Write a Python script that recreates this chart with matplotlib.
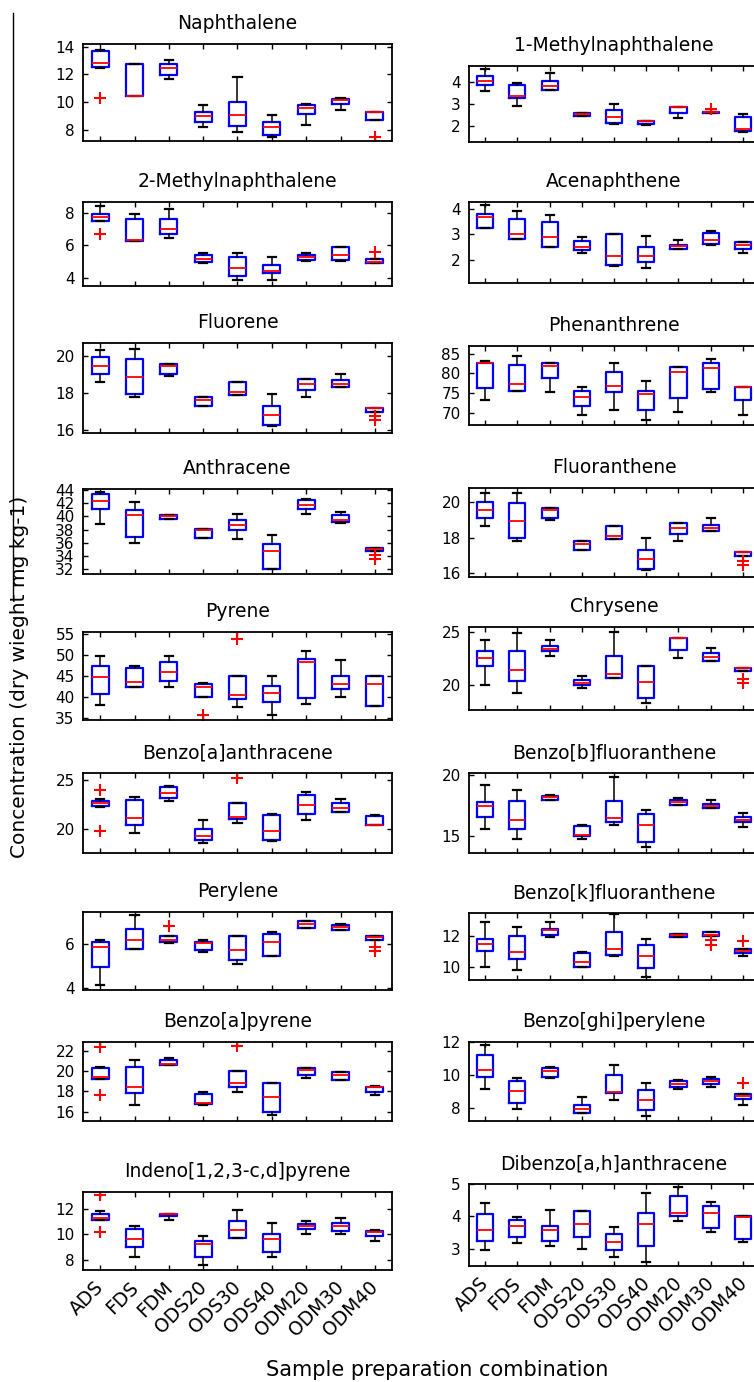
import matplotlib
matplotlib.use("Agg")
import matplotlib.pyplot as plt
from matplotlib.lines import Line2D
import matplotlib.transforms as mtransforms

W, H = 754, 1382

groups = ["ADS", "FDS", "FDM", "ODS20", "ODS30", "ODS40", "ODM20", "ODM30", "ODM40"]

# Each compound: [whisker low, q1, median, q3, whisker high] per group, plus outliers
naphthalene = [[12.49, 10.45, 11.65, 8.22, 7.88, 7.52, 8.34, 9.44, 8.70],
               [12.56, 10.45, 11.96, 8.55, 8.31, 7.64, 9.18, 9.85, 8.70],
               [12.85, 10.45, 12.49, 9.03, 9.08, 8.24, 9.56, 10.16, 9.30],
               [13.69, 12.73, 12.73, 9.32, 10.02, 8.60, 9.78, 10.23, 9.30],
               [13.76, 12.73, 13.06, 9.78, 11.79, 9.08, 9.87, 10.33, 9.30]]
naphthalene_out = [[10.33], [], [], [], [], [], [], [], [7.52]]

methyl1 = [[3.59, 2.90, 3.65, 2.44, 2.09, 2.03, 2.37, 2.59, 1.71],
           [3.88, 3.28, 3.65, 2.44, 2.12, 2.06, 2.58, 2.59, 1.76],
           [4.05, 3.34, 3.80, 2.52, 2.40, 2.23, 2.85, 2.61, 1.86],
           [4.26, 3.88, 4.05, 2.60, 2.70, 2.23, 2.85, 2.63, 2.40],
           [4.58, 3.95, 4.43, 2.60, 2.98, 2.23, 2.85, 2.63, 2.52]]
methyl1_out = [[], [], [], [], [], [], [], [2.76], []]

methyl2 = [[7.49, 6.26, 6.42, 4.88, 3.88, 3.88, 5.05, 5.05, 4.88],
           [7.49, 6.26, 6.71, 4.96, 4.08, 4.29, 5.09, 5.09, 4.88],
           [7.73, 6.30, 6.99, 5.17, 4.59, 4.39, 5.25, 5.42, 4.96],
           [7.92, 7.59, 7.63, 5.42, 5.29, 4.80, 5.42, 5.89, 5.13],
           [8.43, 7.92, 8.25, 5.50, 5.50, 5.27, 5.50, 5.89, 5.13]]
methyl2_out = [[6.69], [], [], [], [], [], [], [], [5.58]]

acenaphthene = [[3.23, 2.81, 2.50, 2.25, 1.75, 1.67, 2.41, 2.59, 2.25],
                [3.24, 2.81, 2.50, 2.38, 1.78, 1.91, 2.43, 2.63, 2.43],
                [3.66, 3.02, 2.90, 2.50, 2.13, 2.13, 2.52, 2.76, 2.59],
                [3.79, 3.59, 3.48, 2.71, 3.02, 2.51, 2.59, 3.03, 2.68],
                [4.14, 3.91, 3.74, 2.90, 3.02, 2.94, 2.77, 3.12, 2.68]]
acenaphthene_out = [[], [], [], [], [], [], [], [], []]

fluorene = [[18.58, 17.78, 18.95, 17.27, 17.87, 16.18, 17.78, 18.35, 16.96],
            [19.04, 17.96, 19.04, 17.27, 17.87, 16.27, 18.15, 18.35, 16.96],
            [19.49, 18.85, 19.47, 17.64, 18.07, 16.82, 18.49, 18.49, 17.18],
            [19.95, 19.85, 19.56, 17.80, 18.62, 17.27, 18.76, 18.71, 17.18],
            [20.36, 20.40, 19.56, 17.80, 18.62, 17.96, 18.76, 19.05, 17.18]]
fluorene_out = [[], [], [], [], [], [], [], [], [16.75, 16.52]]

phenanthrene = [[73.2, 75.6, 75.2, 69.5, 70.7, 68.2, 70.2, 75.25, 69.5],
                [76.35, 75.6, 78.9, 71.8, 75.2, 70.7, 73.8, 75.9, 73.2],
                [82.5, 77.2, 81.9, 74.0, 76.8, 74.75, 80.2, 81.4, 76.6],
                [82.7, 82.2, 82.6, 75.6, 80.2, 75.6, 81.5, 82.6, 76.6],
                [83.1, 84.3, 82.6, 76.4, 82.6, 78.1, 81.6, 83.5, 76.6]]
phenanthrene_out = [[], [], [], [], [], [], [], [], []]

anthracene = [[38.9, 36.0, 39.55, 36.65, 36.5, 32.0, 40.4, 39.0, 34.75],
              [41.05, 36.9, 39.55, 36.65, 37.9, 32.0, 41.05, 39.15, 34.75],
              [42.3, 40.15, 40.05, 37.95, 38.65, 34.8, 41.65, 39.4, 35.05],
              [43.4, 40.9, 40.15, 38.1, 39.45, 35.75, 42.4, 40.15, 35.25],
              [43.6, 42.15, 40.15, 38.1, 40.4, 37.15, 42.55, 40.65, 35.25]]
anthracene_out = [[], [], [], [], [], [], [], [], [34.1, 33.6]]

fluoranthene = [[18.63, 17.80, 19.0, 17.28, 17.89, 16.19, 17.8, 18.37, 16.98],
                [19.07, 17.98, 19.07, 17.28, 17.89, 16.26, 18.2, 18.37, 16.98],
                [19.56, 18.93, 19.56, 17.63, 18.07, 16.83, 18.54, 18.54, 17.2],
                [20.0, 19.93, 19.63, 17.81, 18.63, 17.3, 18.81, 18.72, 17.2],
                [20.48, 20.48, 19.63, 17.81, 18.63, 17.98, 18.81, 19.07, 17.2]]
fluoranthene_out = [[], [], [], [], [], [], [], [], [16.7, 16.47]]

pyrene = [[38.05, 42.3, 42.3, 40.0, 37.75, 35.8, 38.5, 40.1, 37.9],
          [40.7, 42.3, 43.85, 40.0, 39.6, 38.85, 39.7, 42.0, 37.9],
          [44.65, 43.55, 45.9, 42.45, 40.5, 40.9, 48.2, 43.15, 43.1],
          [47.4, 47.0, 48.2, 43.15, 45.05, 42.75, 48.95, 45.05, 45.05],
          [49.7, 47.4, 49.7, 43.4, 45.05, 45.0, 50.85, 48.9, 45.05]]
pyrene_out = [[], [], [], [35.8], [53.8], [], [], [], []]

chrysene = [[20.0, 19.22, 22.72, 19.69, 20.69, 18.28, 22.6, 22.25, 21.31],
            [21.78, 20.4, 23.22, 20.0, 20.69, 18.75, 23.31, 22.25, 21.31],
            [22.56, 21.47, 23.4, 20.16, 21.03, 20.25, 24.4, 22.66, 21.62],
            [23.22, 23.22, 23.66, 20.47, 22.72, 21.81, 24.47, 23.03, 21.62],
            [24.22, 24.9, 24.22, 20.84, 25.0, 21.81, 24.47, 23.5, 21.62]]
chrysene_out = [[], [], [], [], [], [], [], [], [20.62, 20.2]]

benz_a_anth = [[22.2, 19.56, 22.86, 18.54, 20.58, 18.7, 20.92, 21.7, 20.34],
               [22.28, 20.34, 23.16, 18.81, 21.02, 18.81, 21.53, 21.7, 20.34],
               [22.65, 21.05, 23.7, 19.22, 21.22, 19.76, 22.38, 22.07, 20.41],
               [22.82, 22.9, 24.25, 19.93, 22.62, 21.4, 23.4, 22.62, 21.26],
               [23.06, 23.23, 24.4, 20.92, 22.62, 21.53, 23.74, 23.06, 21.36]]
benz_a_anth_out = [[24.0, 19.76], [], [], [], [25.2], [], [], [], []]

benz_b_fl = [[15.61, 14.72, 18.0, 14.72, 15.92, 14.06, 17.53, 17.28, 15.78],
             [16.61, 15.56, 18.0, 15.0, 16.19, 14.53, 17.53, 17.28, 16.19],
             [17.44, 16.33, 18.22, 15.08, 16.47, 15.92, 17.81, 17.44, 16.36],
             [17.78, 17.92, 18.33, 15.83, 17.92, 16.81, 17.94, 17.64, 16.53],
             [19.19, 18.78, 18.42, 15.92, 19.89, 17.17, 18.14, 18.0, 16.89]]
benz_b_fl_out = [[], [], [], [], [], [], [], [], []]

perylene = [[4.15, 5.77, 6.03, 5.64, 5.10, 5.43, 6.69, 6.6, 6.15],
            [4.95, 5.77, 6.08, 5.70, 5.25, 5.46, 6.72, 6.63, 6.15],
            [5.85, 6.15, 6.18, 6.03, 5.73, 6.06, 6.89, 6.77, 6.30],
            [6.08, 6.68, 6.36, 6.08, 6.36, 6.45, 7.04, 6.86, 6.36],
            [6.15, 7.31, 6.36, 6.15, 6.36, 6.53, 7.04, 6.9, 6.36]]
perylene_out = [[], [], [6.81], [], [], [], [], [], [5.85, 5.68]]

benz_k_fl = [[10.0, 9.78, 11.91, 9.96, 10.7, 9.35, 11.91, 12.0, 10.7],
             [11.04, 10.5, 12.07, 9.96, 10.76, 9.89, 11.91, 12.0, 10.91],
             [11.48, 10.96, 12.35, 10.3, 11.15, 10.7, 12.02, 12.07, 11.04],
             [11.8, 12.0, 12.46, 10.87, 12.24, 11.37, 12.13, 12.24, 11.15],
             [12.87, 12.57, 12.89, 10.93, 13.41, 11.8, 12.13, 12.24, 11.15]]
benz_k_fl_out = [[], [], [], [], [], [], [], [11.75, 11.38], [11.63]]

benz_a_pyr = [[19.17, 16.62, 20.6, 16.62, 17.95, 15.63, 19.27, 19.1, 17.62],
              [19.24, 17.78, 20.6, 16.72, 18.44, 15.96, 19.6, 19.1, 17.95],
              [19.44, 18.44, 20.7, 16.85, 18.77, 17.45, 20.1, 19.6, 18.44],
              [20.26, 20.43, 21.09, 17.68, 20.0, 18.77, 20.26, 19.93, 18.44],
              [20.36, 21.09, 21.26, 17.95, 20.0, 18.77, 20.26, 19.93, 18.54]]
benz_a_pyr_out = [[22.35, 17.62], [], [], [], [22.42], [], [], [], []]

benz_ghi = [[9.11, 7.9, 9.78, 7.67, 8.49, 7.47, 9.11, 9.27, 8.14],
            [9.85, 8.25, 9.85, 7.67, 8.86, 7.86, 9.27, 9.44, 8.55],
            [10.30, 8.98, 10.22, 7.94, 8.94, 8.47, 9.42, 9.6, 8.7],
            [11.18, 9.6, 10.4, 8.18, 10.0, 9.07, 9.6, 9.72, 8.82],
            [11.8, 9.78, 10.48, 8.66, 10.6, 9.48, 9.68, 9.87, 8.82]]
benz_ghi_out = [[], [], [], [], [], [], [], [], [9.48]]

indeno = [[11.1, 8.26, 11.15, 7.61, 9.75, 8.26, 10.01, 10.01, 9.5],
          [11.1, 8.98, 11.41, 8.21, 9.75, 8.6, 10.4, 10.25, 9.88],
          [11.25, 9.63, 11.61, 9.24, 10.3, 9.63, 10.66, 10.63, 10.17],
          [11.61, 10.4, 11.61, 9.5, 11.02, 10.01, 10.79, 10.89, 10.27],
          [11.79, 10.66, 11.61, 9.86, 11.87, 10.89, 11.05, 11.28, 10.37]]
indeno_out = [[13.03, 10.19], [], [], [], [], [], [], [], []]

dibenzo = [[2.96, 3.16, 3.09, 2.99, 2.75, 2.58, 3.84, 3.51, 3.2],
           [3.24, 3.35, 3.24, 3.35, 2.96, 3.09, 4.01, 3.65, 3.3],
           [3.57, 3.71, 3.57, 3.76, 3.2, 3.76, 4.11, 4.11, 3.97],
           [4.06, 3.87, 3.71, 4.16, 3.45, 4.11, 4.63, 4.32, 4.02],
           [4.42, 3.97, 4.2, 4.16, 3.68, 4.71, 4.9, 4.43, 4.02]]
dibenzo_out = [[], [], [], [], [], [], [], [], []]

titles_left = ["Naphthalene", "2-Methylnaphthalene", "Fluorene", "Anthracene", "Pyrene",
               "Benzo[a]anthracene", "Perylene", "Benzo[a]pyrene", "Indeno[1,2,3-c,d]pyrene"]
titles_right = ["1-Methylnaphthalene", "Acenaphthene", "Phenanthrene", "Fluoranthene", "Chrysene",
                "Benzo[b]fluoranthene", "Benzo[k]fluoranthene", "Benzo[ghi]perylene",
                "Dibenzo[a,h]anthracene"]
data_left = [(naphthalene, naphthalene_out), (methyl2, methyl2_out), (fluorene, fluorene_out),
             (anthracene, anthracene_out), (pyrene, pyrene_out), (benz_a_anth, benz_a_anth_out),
             (perylene, perylene_out), (benz_a_pyr, benz_a_pyr_out), (indeno, indeno_out)]
data_right = [(methyl1, methyl1_out), (acenaphthene, acenaphthene_out), (phenanthrene, phenanthrene_out),
              (fluoranthene, fluoranthene_out), (chrysene, chrysene_out), (benz_b_fl, benz_b_fl_out),
              (benz_k_fl, benz_k_fl_out), (benz_ghi, benz_ghi_out), (dibenzo, dibenzo_out)]

ylims_left = [(7.2, 14.2), (3.49, 8.66), (15.82, 20.73), (31.3, 44.1), (34.6, 55.4),
              (17.5, 25.7), (3.92, 7.43), (15.07, 22.85), (7.23, 13.29)]
yticks_left = [[8, 10, 12, 14], [4, 6, 8], [16, 18, 20], [32, 34, 36, 38, 40, 42, 44],
               [35, 40, 45, 50, 55], [20, 25], [4, 6], [16, 18, 20, 22], [8, 10, 12]]
ylims_right = [(1.25, 4.73), (1.08, 4.26), (66.9, 86.9), (15.8, 20.76), (17.66, 25.47),
               (13.6, 20.2), (9.13, 13.48), (7.18, 12.0), (2.46, 5.0)]
yticks_right = [[2, 3, 4], [2, 3, 4], [70, 75, 80, 85], [16, 18, 20], [20, 25], [15, 20],
                [10, 12], [8, 10, 12], [3, 4, 5]]

# layout (pixels)
rows_left = [(44, 141), (202, 286), (343, 433), (489, 574), (632, 720), (773, 853),
             (912, 990), (1042, 1121), (1192, 1270)]
rows_right = [(66, 142), (202, 283), (346, 425), (488, 577), (627, 710), (773, 853),
              (913, 980), (1042, 1121), (1184, 1266)]
col_left = (83, 392)
col_right = (469, 759)

fig = plt.figure(figsize=(W / 100, H / 100), dpi=100)
fig.patch.set_facecolor("white")


def make_axes(top, bottom, left, right):
    return fig.add_axes([left / W, 1 - bottom / H, (right - left) / W, (bottom - top) / H])


def draw_panel(ax, stats5, outs, title, ylim, yticks, bottom_row):
    lo, q1, med, q3, hi = stats5
    bstats = []
    for i in range(len(groups)):
        bstats.append(dict(whislo=lo[i], q1=q1[i], med=med[i], q3=q3[i], whishi=hi[i],
                           fliers=outs[i], label=groups[i]))
    ax.bxp(bstats, positions=range(1, len(groups) + 1), widths=0.5, capwidths=0.25,
           showfliers=True,
           boxprops=dict(color="#0000ff", linewidth=1.6),
           medianprops=dict(color="#ff0000", linewidth=1.3),
           whiskerprops=dict(color="black", linewidth=1.1, linestyle="-"),
           capprops=dict(color="black", linewidth=1.6),
           flierprops=dict(marker="+", markeredgecolor="#ff0000", markersize=9,
                           markeredgewidth=1.5, linestyle="none"))
    ax.set_xlim(0.5, len(groups) + 0.5)
    ax.set_ylim(*ylim)
    ax.set_yticks(yticks)
    ax.set_xticks(range(1, len(groups) + 1))
    ax.tick_params(direction="in", length=3.5, width=1, top=True, right=True,
                   labelsize=11)
    ax.tick_params(axis="y", pad=6)
    for s in ax.spines.values():
        s.set_linewidth(1.3)
    ax.set_title(title, fontsize=13.5, pad=10.5)
    if bottom_row:
        labels = ax.set_xticklabels(groups, rotation=45, ha="right", va="top",
                                    rotation_mode="anchor", fontsize=13.5)
        shift = mtransforms.ScaledTranslation(-6 / 100, -3 / 100, fig.dpi_scale_trans)
        for lab in labels:
            lab.set_transform(lab.get_transform() + shift)
    else:
        ax.set_xticklabels([])


for i in range(9):
    ax = make_axes(rows_left[i][0], rows_left[i][1], *col_left)
    draw_panel(ax, data_left[i][0], data_left[i][1], titles_left[i], ylims_left[i],
               yticks_left[i], i == 8)
    ax = make_axes(rows_right[i][0], rows_right[i][1], *col_right)
    draw_panel(ax, data_right[i][0], data_right[i][1], titles_right[i], ylims_right[i],
               yticks_right[i], i == 8)

fig.text(20 / W, 1 - 677 / H, "Concentration (dry wieght mg kg-1)", rotation=90,
         ha="center", va="center", fontsize=14.5)
fig.text(437 / W, 1 - 1370 / H, "Sample preparation combination", ha="center",
         va="center", fontsize=15)
fig.add_artist(Line2D([12.5 / W, 12.5 / W], [1 - 13 / H, 1 - 600 / H],
                      transform=fig.transFigure, color="black", linewidth=1.0))

fig.savefig("out.png", dpi=100)
